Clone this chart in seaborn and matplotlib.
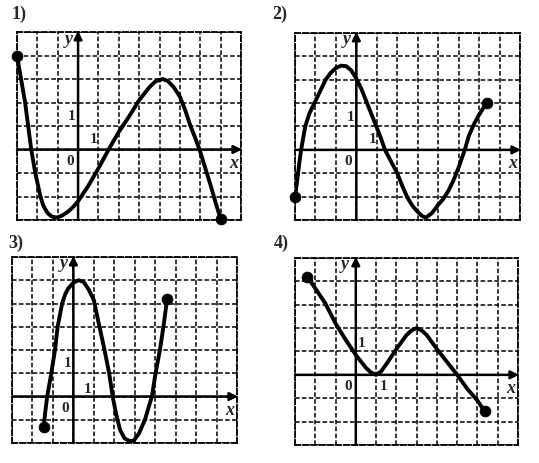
import matplotlib
matplotlib.use("Agg")
import matplotlib.pyplot as plt
import seaborn as sns

# values (one grid cell = 1 unit)
p1_x = [-3, -2.9, -2.8, -2.6, -2.45, -2.3, -2.1, -1.85, -1.7, -1.5, -1.3, -1.05, -0.8, -0.5, -0.25, 0, 0.5, 1, 1.5, 2, 2.5, 3, 3.5, 3.8, 4.15, 4.4, 4.7, 5, 5.25, 5.5, 5.75, 6, 6.25, 6.5, 6.75, 7]
p1_y = [4, 3.5, 3, 2, 1, 0, -1, -2, -2.4, -2.7, -2.85, -2.9, -2.82, -2.65, -2.45, -2.2, -1.55, -0.8, 0, 0.75, 1.4, 2.1, 2.65, 2.9, 3.0, 2.92, 2.65, 2.25, 1.7, 1.05, 0.5, -0.1, -0.8, -1.5, -2.25, -2.95]

p2_x = [-3, -2.92, -2.85, -2.78, -2.7, -2.6, -2.5, -2.3, -2.05, -1.75, -1.5, -1.25, -1, -0.75, -0.5, -0.25, 0, 0.25, 0.5, 0.75, 1, 1.2, 1.4, 1.7, 2, 2.25, 2.5, 2.75, 3, 3.2, 3.4, 3.7, 4, 4.25, 4.5, 4.75, 5, 5.3, 5.5, 5.75, 6, 6.2, 6.4]
p2_y = [-2, -1.5, -1, -0.5, 0, 0.5, 1, 1.55, 2, 2.55, 3, 3.3, 3.5, 3.6, 3.58, 3.4, 3.05, 2.6, 2.05, 1.5, 0.95, 0.5, 0, -0.5, -1, -1.55, -2.05, -2.4, -2.65, -2.82, -2.9, -2.7, -2.35, -2.1, -1.75, -1.3, -0.75, 0, 0.6, 1.1, 1.5, 1.78, 2]

p3_x = [-1.45, -1.38, -1.28, -1.18, -1.08, -0.9, -0.77, -0.55, -0.4, -0.25, 0, 0.25, 0.5, 0.75, 1, 1.25, 1.5, 1.75, 1.92, 2.1, 2.28, 2.5, 2.75, 2.95, 3.2, 3.5, 3.7, 3.84, 4.0, 4.25, 4.45, 4.58]
p3_y = [-1.3, -0.7, 0, 0.5, 1, 2, 3, 4, 4.4, 4.65, 4.9, 5, 4.93, 4.6, 4.15, 3.1, 2.1, 1.0, 0, -0.8, -1.43, -1.8, -1.92, -1.9, -1.6, -1, -0.4, 0, 0.9, 2.1, 3.3, 4.2]

p4_x = [-2.4, -2, -1.5, -1, -0.5, 0, 0.5, 0.75, 1, 1.25, 1.5, 2, 2.5, 2.75, 3, 3.25, 3.5, 4, 4.5, 5, 5.5, 6, 6.35]
p4_y = [4.2, 3.7, 3.05, 2.2, 1.5, 0.85, 0.3, 0.1, 0, 0.15, 0.45, 1.1, 1.7, 1.9, 2.0, 1.9, 1.7, 1.1, 0.55, 0, -0.6, -1.1, -1.55]

titles = ["1)", "2)", "3)", "4)"]
x_range = (-3, 8)
y_ranges = [(-3, 5), (-3, 5), (-2, 6), (-3, 5)]

# where the tick labels "1" sit in each graph
one_y_pos = [(-0.33, 1.4), (-0.3, 1.4), (-0.3, 1.43), (0.3, 1.35)]
one_x_pos = [(0.75, 0.42), (0.8, 0.45), (0.7, 0.3), (1.35, -0.5)]

sns.set_style("white")
plt.rcParams["font.family"] = ["Liberation Serif", "DejaVu Serif"]

fig = plt.figure(figsize=(5.39, 4.63), dpi=100)
boxes = [
    [0.0315, 0.5248, 0.4156, 0.406],
    [0.5473, 0.5248, 0.4174, 0.404],
    [0.0223, 0.0432, 0.4174, 0.4017],
    [0.5473, 0.0389, 0.4137, 0.404],
]
title_pos = [(0.022, 0.968), (0.505, 0.968), (0.016, 0.474), (0.508, 0.474)]
curves = [(p1_x, p1_y), (p2_x, p2_y), (p3_x, p3_y), (p4_x, p4_y)]

for i, box in enumerate(boxes):
    ax = fig.add_axes(box)
    xs, ys = curves[i]
    y0, y1 = y_ranges[i]

    ax.set_xlim(*x_range)
    ax.set_ylim(y0, y1)
    ax.set_xticks(range(x_range[0], x_range[1] + 1))
    ax.set_yticks(range(y0, y1 + 1))
    ax.tick_params(length=0, labelbottom=False, labelleft=False)
    ax.grid(True, color="black", linestyle=(0, (3, 1.5)), linewidth=1.1)
    for sp in ax.spines.values():
        sp.set_linestyle((0, (3, 1.5)))
        sp.set_linewidth(1.3)
        sp.set_color("black")

    # coordinate axes with arrows
    ax.annotate("", xy=(x_range[1] + 0.05, 0), xytext=(x_range[0], 0),
                arrowprops=dict(arrowstyle="-|>", color="black", lw=1.8,
                                mutation_scale=12, shrinkA=0, shrinkB=0),
                annotation_clip=False)
    ax.annotate("", xy=(0, y1 + 0.05), xytext=(0, y0),
                arrowprops=dict(arrowstyle="-|>", color="black", lw=1.8,
                                mutation_scale=12, shrinkA=0, shrinkB=0),
                annotation_clip=False)

    sns.lineplot(x=xs, y=ys, ax=ax, color="black", linewidth=2.8,
                 sort=False, estimator=None)
    sns.scatterplot(x=[xs[0], xs[-1]], y=[ys[0], ys[-1]], ax=ax,
                    color="black", s=60, edgecolor="black", zorder=5,
                    clip_on=False)

    ax.text(-0.45 if i != 3 else -0.55, y1 - 0.3, "y", style="italic",
            fontweight="bold", fontsize=13, ha="center", va="center")
    ax.text(7.65, -0.6, "x", style="italic", fontweight="bold", fontsize=13,
            ha="center", va="center")
    ax.text(-0.4, -0.5, "0", fontweight="bold", fontsize=11,
            ha="center", va="center")
    ax.text(*one_y_pos[i], "1", fontweight="bold", fontsize=11,
            ha="center", va="center")
    ax.text(*one_x_pos[i], "1", fontweight="bold", fontsize=11,
            ha="center", va="center")

    fig.text(*title_pos[i], titles[i], fontweight="bold", fontsize=13,
             ha="left", va="center")

fig.savefig("out.png", dpi=100, facecolor="white")
